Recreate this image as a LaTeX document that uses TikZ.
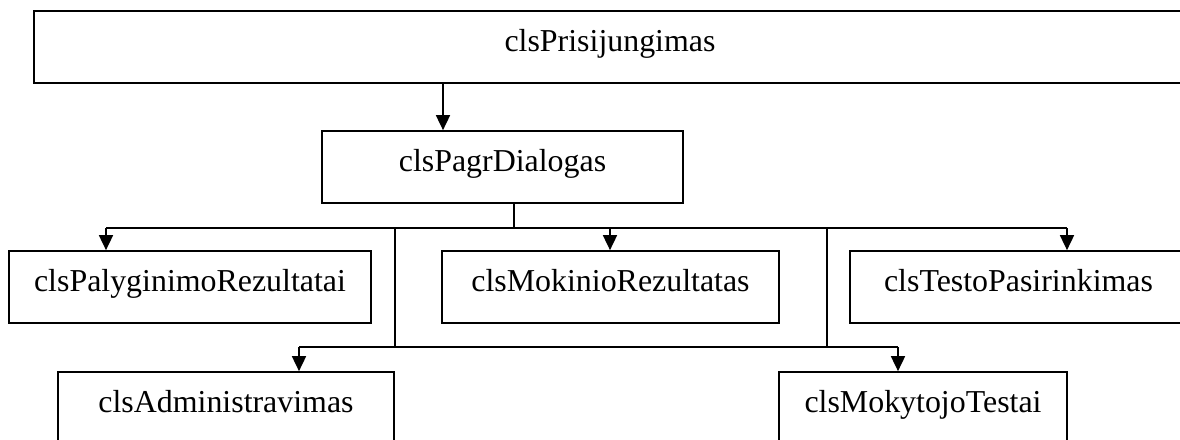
\documentclass[tikz,border=0pt]{standalone}
\usepackage{fontspec}
\setmainfont{Liberation Serif}
\usetikzlibrary{arrows.meta}

\begin{document}
\begin{tikzpicture}[x=1pt,y=-1pt,
  cls/.style={draw=black, line width=1.7pt, rectangle, inner sep=0pt,
    minimum height=72pt, text height=22pt, text depth=14pt,
    font=\fontsize{31.9}{38}\selectfont},
  link/.style={draw=black, line width=1.7pt},
  arr/.style={link, -{Triangle[length=15pt,width=14pt]}}]
  \useasboundingbox (0,0) rectangle (1180,439);
  \fill[white] (0,0) rectangle (1180,439);

  % class boxes
  \node[cls, line width=2.4pt, minimum width=1152pt] (prisij) at (610,47) {clsPrisijungimas};
  \node[cls, minimum width=361pt] (pagr)  at (502.5,167) {clsPagrDialogas};
  \node[cls, minimum width=362pt] (paly)  at (190,287)   {clsPalyginimoRezultatai};
  \node[cls, minimum width=337pt] (moki)  at (610.5,287) {clsMokinioRezultatas};
  \node[cls, minimum width=337pt] (testo) at (1018.5,287) {clsTestoPasirinkimas};
  \node[cls, minimum width=336pt] (admin) at (226,408)   {clsAdministravimas};
  \node[cls, minimum width=288pt] (moky)  at (923,408)   {clsMokytojoTestai};

  % junction points
  \coordinate (top) at (443,83);
  \coordinate (stem) at (514,228);
  \coordinate (busL) at (106,228);
  \coordinate (busM) at (610,228);
  \coordinate (busR) at (1067,228);
  \coordinate (upL) at (395,228);
  \coordinate (upR) at (827,228);
  \coordinate (lowL) at (299,347);
  \coordinate (lowR) at (898,347);
  \coordinate (dnL) at (395,347);
  \coordinate (dnR) at (827,347);

  % main window
  \draw[arr] (top) -- (top |- pagr.north);
  \draw[link] (pagr.south -| stem) -- (stem);

  % upper bus
  \draw[link] (busL) -- (busR);
  \draw[arr] (busL) -- (busL |- paly.north);
  \draw[arr] (busM) -- (busM |- moki.north);
  \draw[arr] (busR) -- (busR |- testo.north);

  % lower bus
  \draw[link] (upL) -- (dnL);
  \draw[link] (upR) -- (dnR);
  \draw[link] (lowL) -- (lowR);
  \draw[arr] (lowL) -- (lowL |- admin.north);
  \draw[arr] (lowR) -- (lowR |- moky.north);
\end{tikzpicture}
\end{document}
